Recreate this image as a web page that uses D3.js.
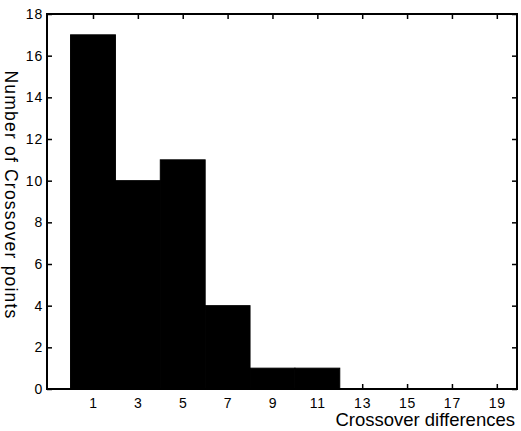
<!DOCTYPE html>
<html>
<head>
<meta charset="utf-8">
<script src="https://cdn.jsdelivr.net/npm/d3@7"></script>
<style>
  body { margin: 0; background: #fff; }
  svg text { font-family: "Liberation Sans", Arial, sans-serif; fill: #000; }
</style>
</head>
<body>
<div id="chart"></div>
<script>
  // bins of width 2, left edges
  var binStarts = [0, 2, 4, 6, 8, 10];
  var counts = [17, 10, 11, 4, 1, 1];
  var xTicks = [1, 3, 5, 7, 9, 11, 13, 15, 17, 19];
  var yTicks = [0, 2, 4, 6, 8, 10, 12, 14, 16, 18];

  (function() {
    var W = 521, H = 431;
    var mLeft = 47, mRight = 517, mTop = 14, mBottom = 389;

    var svg = d3.select('#chart').append('svg:svg')
        .attr('width', W).attr('height', H);

    var x = d3.scaleLinear().domain([-1.05, 19.9]).range([mLeft, mRight]);
    var y = d3.scaleLinear().domain([0, 18]).range([mBottom, mTop]);

    // Bars (stroked so neighbours merge without seams)
    svg.selectAll('rect.bar').data(counts).enter()
        .append('svg:rect')
        .attr('class', 'bar')
        .attr('x', function(d, i) { return x(binStarts[i]); })
        .attr('width', function(d, i) { return x(binStarts[i] + 2) - x(binStarts[i]); })
        .attr('y', function(d) { return y(d); })
        .attr('height', function(d) { return y(0) - y(d); })
        .attr('fill', '#000').attr('stroke', '#000').attr('stroke-width', 1);

    // Axes, ticks pointing inward like matlab
    var tk = 5;
    svg.append('g').attr('transform', 'translate(0,' + mBottom + ')')
        .call(d3.axisBottom(x).tickValues(xTicks).tickSize(-tk).tickPadding(9))
        .call(function(g) { g.select('.domain').remove(); });
    svg.append('g').attr('transform', 'translate(0,' + mTop + ')')
        .call(d3.axisTop(x).tickValues(xTicks).tickSize(-tk).tickFormat(''))
        .call(function(g) { g.select('.domain').remove(); });
    svg.append('g').attr('transform', 'translate(' + mLeft + ',0)')
        .call(d3.axisLeft(y).tickValues(yTicks).tickSize(-tk).tickPadding(4))
        .call(function(g) { g.select('.domain').remove(); });
    svg.append('g').attr('transform', 'translate(' + mRight + ',0)')
        .call(d3.axisRight(y).tickValues(yTicks).tickSize(-tk).tickFormat(''))
        .call(function(g) { g.select('.domain').remove(); });

    svg.selectAll('.tick line').attr('stroke', '#000').attr('stroke-width', 1.5);
    svg.selectAll('.tick text').style('font-size', '14px').style('letter-spacing', '0.8px');

    // Frame
    svg.append('svg:rect')
        .attr('x', mLeft).attr('y', mTop)
        .attr('width', mRight - mLeft).attr('height', mBottom - mTop)
        .attr('fill', 'none').attr('stroke', '#000').attr('stroke-width', 2);

    // Axis labels
    svg.append('svg:text')
        .attr('x', 515).attr('y', 426)
        .attr('text-anchor', 'end')
        .style('font-size', '18.5px')
        .text('Crossover differences');
    svg.append('svg:text')
        .attr('transform', 'translate(5,195) rotate(90)')
        .attr('text-anchor', 'middle')
        .style('font-size', '17.5px')
        .style('letter-spacing', '1.2px')
        .text('Number of Crossover points');
  })();
</script>
</body>
</html>
